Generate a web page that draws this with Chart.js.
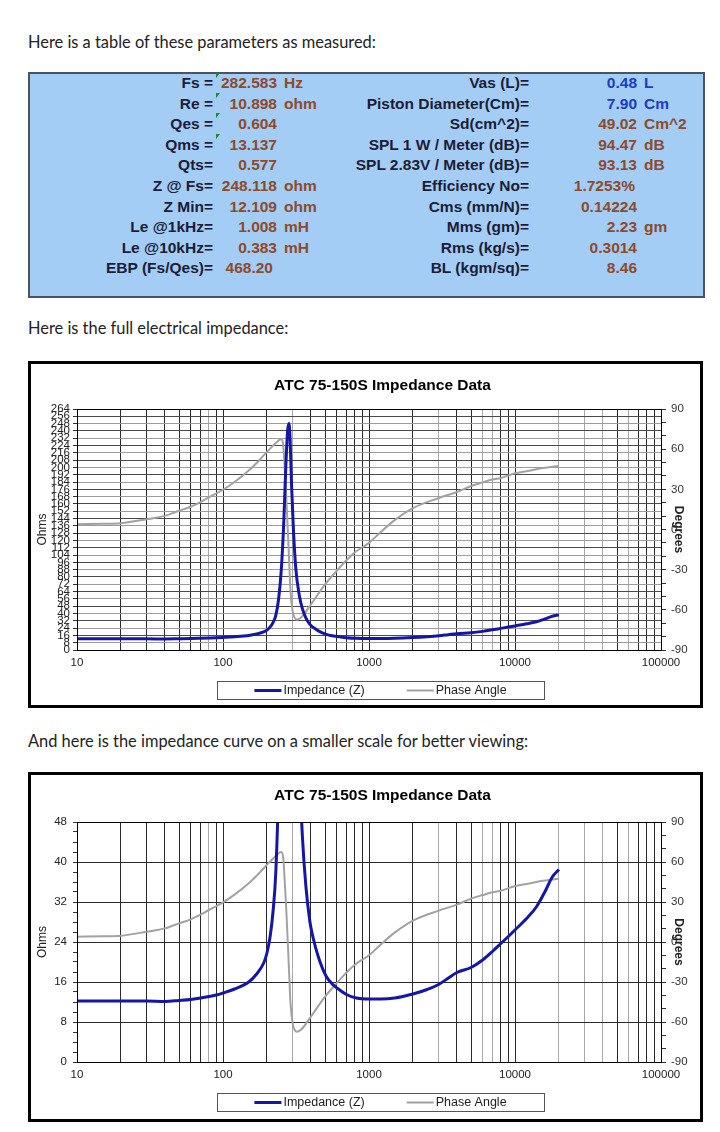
<!DOCTYPE html>
<html>
<head>
<meta charset="utf-8">
<script src="https://cdn.jsdelivr.net/npm/chart.js@4"></script>
<style>
  body { margin: 0; background: #fff; width: 720px; height: 1132px; position: relative; overflow: hidden; }
  .p { position: absolute; left: 28px; font: 16.4px Lato, "Open Sans", sans-serif; color: #222; line-height: 20px; white-space: nowrap; }
  #tbl { position: absolute; left: 28px; top: 72px; width: 673px; height: 222px; background: #a3cdf4; border: 2px solid #4b5360; }
  .c { position: absolute; font: bold 15.5px "Liberation Sans", Arial, sans-serif; line-height: 18px; white-space: nowrap; }
  .mark { position: absolute; width: 0; height: 0; border-top: 5px solid #1d8a2c; border-right: 4px solid transparent; }
  .box { position: absolute; left: 28px; border: 3px solid #000; background: #fff; }
  canvas { display: block; }
</style>
</head>
<body>
<div class="p" style="top:32px">Here is a table of these parameters as measured:</div>
<div id="tbl"></div>
<div class="p" style="top:318px">Here is the full electrical impedance:</div>
<div class="box" style="top:361px"><canvas id="full" width="669" height="341"></canvas></div>
<div class="p" style="top:731px">And here is the impedance curve on a smaller scale for better viewing:</div>
<div class="box" style="top:772px"><canvas id="zoom" width="669" height="344"></canvas></div>

<script>
// measured parameters (table)
const leftLabels = ['Fs =', 'Re =', 'Qes =', 'Qms =', 'Qts=', 'Z @ Fs=', 'Z Min=', 'Le @1kHz=', 'Le @10kHz=', 'EBP (Fs/Qes)='];
const leftValues = ['282.583', '10.898', '0.604', '13.137', '0.577', '248.118', '12.109', '1.008', '0.383', '468.20'];
const leftUnits = ['Hz', 'ohm', '', '', '', 'ohm', 'ohm', 'mH', 'mH', ''];
const rightLabels = ['Vas (L)=', 'Piston Diameter(Cm)=', 'Sd(cm^2)=', 'SPL 1 W / Meter (dB)=', 'SPL 2.83V / Meter (dB)=',
  'Efficiency No=', 'Cms (mm/N)=', 'Mms (gm)=', 'Rms (kg/s)=', 'BL (kgm/sq)='];
const rightValues = ['0.48', '7.90', '49.02', '94.47', '93.13', '1.7253%', '0.14224', '2.23', '0.3014', '8.46'];
const rightUnits = ['L', 'Cm', 'Cm^2', 'dB', 'dB', '', '', 'gm', '', ''];

// impedance sweep
const impFreq = [10, 15, 20, 30, 40, 50, 60, 70, 80, 90, 100, 120, 150, 170, 190, 200, 210, 220, 230, 240,
  250, 260, 270, 277, 283, 288, 295, 303, 315, 333, 350, 370, 394, 413, 450, 510, 570, 630, 700, 820,
  1000, 1200, 1500, 2000, 2500, 3000, 3500, 4000, 5000, 6000, 7000, 8000, 9000, 10000, 12000, 14000, 16000, 18000, 20000];
const impOhms = [12.2, 12.2, 12.2, 12.2, 12.1, 12.3, 12.5, 12.8, 13.1, 13.4, 13.8, 14.6, 16.0, 17.6, 19.8, 21.8, 25, 30, 38, 55,
  85, 135, 205, 240, 248, 232, 180, 135, 90, 60, 45, 35, 28, 25, 21, 17.1, 15.4, 14.4, 13.5, 12.8,
  12.6, 12.6, 12.8, 13.6, 14.5, 15.5, 16.8, 17.9, 18.9, 20.4, 22.1, 23.7, 25.1, 26.4, 28.7, 31, 34, 37, 38.5];
const phaseFreq = [10, 15, 20, 30, 40, 50, 60, 70, 80, 100, 120, 150, 180, 200, 220, 240, 250, 258, 265, 270,
  275, 280, 285, 290, 300, 310, 320, 335, 350, 400, 500, 600, 700, 800, 1000, 1200, 1500, 2000, 3000, 4000,
  5000, 6000, 7000, 8000, 10000, 12000, 15000, 20000];
const phaseDeg = [4, 4.3, 4.7, 7.7, 10.2, 14, 17, 20.5, 24, 29.7, 35.5, 44, 52.5, 58, 62.5, 66.5, 67.5, 64, 45, 29,
  10, -8.5, -28, -46, -61, -66, -67.3, -66.5, -64.7, -56, -41, -31, -23, -17, -10, -2, 7, 16, 23.5, 28,
  32.5, 35.2, 37.3, 38.5, 42, 43.5, 45.7, 47.5];

const seriesNames = ['Impedance (Z)', 'Phase Angle'];
const chartTitle = 'ATC 75-150S Impedance Data';
const freqLabels = [10, 100, 1000, 10000, 100000];
const lightGrid = [80, 300, 3000, 6000, 7000, 20000, 30000, 40000, 60000];

// build the table
const navy = '#1c1c36', brown = '#8d4a2b', blue = '#1a3cc4';
function cell(text, x, y, align, color) {
  const d = document.createElement('div');
  d.className = 'c';
  d.textContent = text;
  d.style.top = y + 'px';
  d.style.color = color;
  if (align === 'right') d.style.right = (720 - x) + 'px'; else d.style.left = x + 'px';
  document.body.appendChild(d);
}
for (let i = 0; i < leftLabels.length; i++) {
  const y = 74 + i * 20.6;
  cell(leftLabels[i], 213, y, 'right', navy);
  cell(leftValues[i], i === 9 ? 273 : 277, y, 'right', brown);
  cell(leftUnits[i], 284, y, 'left', brown);
  const rc = i < 2 ? blue : brown;
  cell(rightLabels[i], 529, y, 'right', navy);
  cell(rightValues[i], i === 5 ? 635 : 637, y, 'right', rc);
  cell(rightUnits[i], 644, y, 'left', rc);
  if (i < 4) {
    const m = document.createElement('div');
    m.className = 'mark';
    m.style.left = '216px';
    m.style.top = (i === 0 ? 73 : 72 + i * 20.6) + 'px';
    document.body.appendChild(m);
  }
}

const font = { family: '"Liberation Sans", Arial, sans-serif', size: 11.5 };

function logTicks(scale) {
  const t = [];
  for (let d = 10; d < 100000; d *= 10) {
    for (let k = 1; k < 10; k++) t.push({ value: d * k });
  }
  t.push({ value: 100000 });
  scale.ticks = t;
}

// frame, title and boxed legend
const decor = {
  id: 'decor',
  afterDraw(chart, args, opts) {
    const { ctx, chartArea: a } = chart;
    ctx.save();
    ctx.strokeStyle = '#000';
    ctx.lineWidth = 1;
    ctx.strokeRect(a.left + 0.5, a.top + 0.5, a.right - a.left, a.bottom - a.top);

    ctx.fillStyle = '#000';
    ctx.font = 'bold 15.5px "Liberation Sans", Arial, sans-serif';
    ctx.textAlign = 'center';
    ctx.textBaseline = 'middle';
    ctx.fillText(chartTitle, 351.5, opts.titleY);

    const bx = 186, bw = 327, by = opts.legendY, bh = 18;
    ctx.fillStyle = '#fff';
    ctx.fillRect(bx, by, bw, bh);
    ctx.strokeStyle = '#555';
    ctx.strokeRect(bx + 0.5, by + 0.5, bw, bh);
    ctx.font = '12.5px "Liberation Sans", Arial, sans-serif';
    ctx.textAlign = 'left';
    const sets = chart.data.datasets;
    const widths = sets.map(s => ctx.measureText(s.label).width);
    const total = widths.reduce((s, w) => s + w + 29, 0) + 42;
    let x = bx + bw / 2 - total / 2;
    const cy = by + bh / 2 + 0.5;
    sets.forEach((s, i) => {
      ctx.strokeStyle = s.borderColor;
      ctx.lineWidth = s.borderWidth;
      ctx.beginPath();
      ctx.moveTo(x, cy);
      ctx.lineTo(x + 27, cy);
      ctx.stroke();
      ctx.fillStyle = '#222';
      ctx.fillText(s.label, x + 29, cy);
      x += 29 + widths[i] + 42;
    });
    ctx.restore();
  }
};

function makeChart(id, opt) {
  new Chart(document.getElementById(id), {
    type: 'line',
    data: {
      datasets: [
        {
          label: seriesNames[0],
          data: impFreq.map((f, i) => ({ x: f, y: impOhms[i] })),
          borderColor: '#1616a6',
          borderWidth: 3,
          pointRadius: 0,
          cubicInterpolationMode: 'monotone',
          yAxisID: 'y'
        },
        {
          label: seriesNames[1],
          data: phaseFreq.map((f, i) => ({ x: f, y: phaseDeg[i] })),
          borderColor: '#a2a2a2',
          borderWidth: 2,
          pointRadius: 0,
          cubicInterpolationMode: 'monotone',
          yAxisID: 'y2'
        }
      ]
    },
    options: {
      responsive: false,
      animation: false,
      layout: { padding: { top: opt.top, bottom: opt.bottom, left: 0, right: 0 } },
      plugins: {
        legend: { display: false },
        tooltip: { enabled: false },
        decor: { titleY: opt.titleY, legendY: opt.legendY }
      },
      scales: {
        x: {
          type: 'logarithmic',
          min: 10,
          max: 100000,
          afterBuildTicks: logTicks,
          afterFit: s => { s.height = 24; },
          ticks: {
            autoSkip: false,
            maxRotation: 0,
            padding: 6,
            color: '#222',
            font: font,
            callback: v => freqLabels.includes(v) ? String(v) : ''
          },
          grid: {
            drawTicks: false,
            color: c => lightGrid.includes(c.tick && c.tick.value) ? '#a8a8a8' : '#2a2a2a'
          },
          border: { color: '#000' }
        },
        y: {
          position: 'left',
          min: 0,
          max: opt.yMax,
          afterFit: s => { s.width = 46; },
          ticks: {
            stepSize: opt.yStep,
            autoSkip: false,
            padding: opt.yPad,
            color: '#222',
            font: opt.yFont,
            callback: v => v % 8 === 0 ? v : ''
          },
          grid: {
            tickLength: 4,
            tickColor: '#333',
            color: opt.yGrid
          },
          border: { color: '#000' },
          title: { display: true, text: 'Ohms', color: '#222', font: { family: font.family, size: 12 }, padding: { top: 4, bottom: 0 } }
        },
        y2: {
          position: 'right',
          min: -90,
          max: 90,
          afterFit: s => { s.width = 39; },
          ticks: {
            stepSize: 10,
            autoSkip: false,
            padding: 5,
            color: '#333',
            font: font,
            callback: v => v % 30 === 0 ? v : ''
          },
          grid: { drawOnChartArea: false, tickLength: 5, color: '#333' },
          border: { color: '#000' },
          title: {
            display: true, text: 'Degrees', color: '#222',
            font: { family: font.family, size: 12, weight: 'bold' },
            padding: { top: 14, bottom: 0 }
          }
        }
      }
    },
    plugins: [decor]
  });
}

makeChart('full', {
  top: 45, bottom: 31, titleY: 22, legendY: 317,
  yMax: 264, yStep: 8, yPad: 3, yFont: { family: font.family, size: 11.5 },
  yGrid: c => (c.index % 2 === 0 ? '#4a4a4a' : '#9c9c9c')
});
makeChart('zoom', {
  top: 47, bottom: 33, titleY: 21, legendY: 318,
  yMax: 48, yStep: 2, yPad: 6, yFont: font,
  yGrid: c => (c.tick && c.tick.value % 8 === 0 ? '#2a2a2a' : 'rgba(0,0,0,0)')
});
</script>
</body>
</html>
